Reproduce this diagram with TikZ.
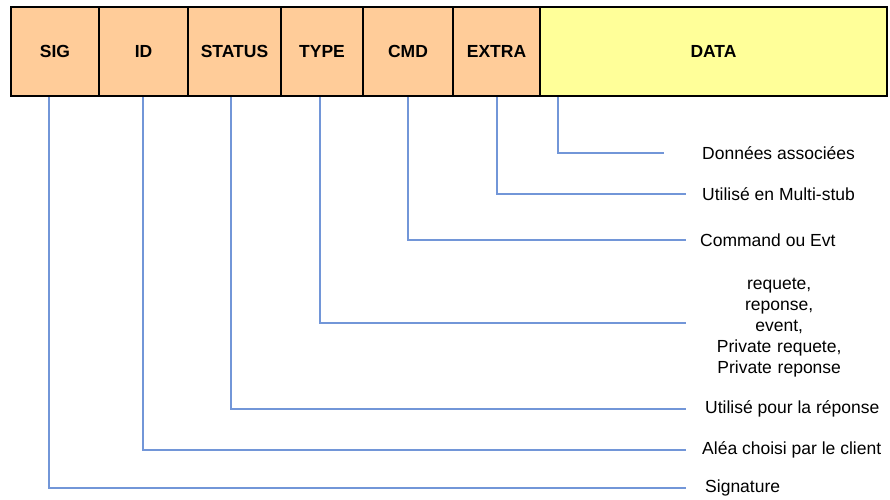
\documentclass[tikz,border=0pt]{standalone}
\usepackage{fontspec}
\setmainfont{Liberation Sans}
\usetikzlibrary{calc}
\usetikzlibrary{positioning}

\definecolor{peach}{RGB}{255,204,153}
\definecolor{paleyellow}{RGB}{255,255,153}
\definecolor{linkblue}{RGB}{114,150,216}

\begin{document}
\begin{tikzpicture}[x=1pt, y=-1pt,
        cell/.style={shape=rectangle, draw=black, line width=1.8pt, fill=peach, minimum height=89pt, inner sep=0pt, font=\fontsize{17.5}{20}\selectfont\bfseries},
        descr/.style={anchor=west, inner sep=0pt, font=\fontsize{17.5}{21}\selectfont},
        link/.style={draw=linkblue, line width=1.4pt}]
        \useasboundingbox (0,0) rectangle (890,499);

        % fields of the frame
        \node (sig) at (55,51.5) [cell, minimum width=88pt] {SIG};
        \node (id) at (143.5,51.5) [cell, minimum width=89pt] {ID};
        \node (status) at (234.5,51.5) [cell, minimum width=93pt] {STATUS};
        \node (type) at (322,51.5) [cell, minimum width=82pt] {TYPE};
        \node (cmd) at (408,51.5) [cell, minimum width=90pt] {CMD};
        \node (extra) at (496.5,51.5) [cell, minimum width=87pt] {EXTRA};
        \node (data) at (713.5,51.5) [cell, minimum width=347pt, fill=paleyellow] {DATA};

        % descriptions
        \node (ldata) at (702,153) [descr] {Données associées};
        \node (lextra) at (702,194) [descr] {Utilisé en Multi-stub};
        \node (lcmd) at (700,240) [descr] {Command ou Evt};
        \node (ltype) at (699,328) [descr, text width=160pt, align=center] {requete,\\reponse,\\event,\\Private requete,\\Private reponse};
        \node (lstatus) at (705,409) [descr] {Utilisé pour la réponse};
        \node (lid) at (702,450) [descr] {Aléa choisi par le client};
        \node (lsig) at (705,488) [descr] {Signature};

        % connections
        \draw[link] ([xshift=19pt]data.south west) |- ([xshift=-38pt]ldata.west);
        \draw[link] ([xshift=0.5pt]extra.south) |- ([xshift=-16pt]lextra.west);
        \draw[link] (cmd.south) |- ([xshift=-14pt]lcmd.west);
        \draw[link] ([xshift=-2pt]type.south) |- ([xshift=-13pt,yshift=5pt]ltype.west);
        \draw[link] ([xshift=-3.5pt]status.south) |- ([xshift=-19pt]lstatus.west);
        \draw[link] ([xshift=-0.5pt]id.south) |- ([xshift=-16pt]lid.west);
        \draw[link] ([xshift=-6pt]sig.south) |- ([xshift=-19pt]lsig.west);
    \end{tikzpicture}
\end{document}
